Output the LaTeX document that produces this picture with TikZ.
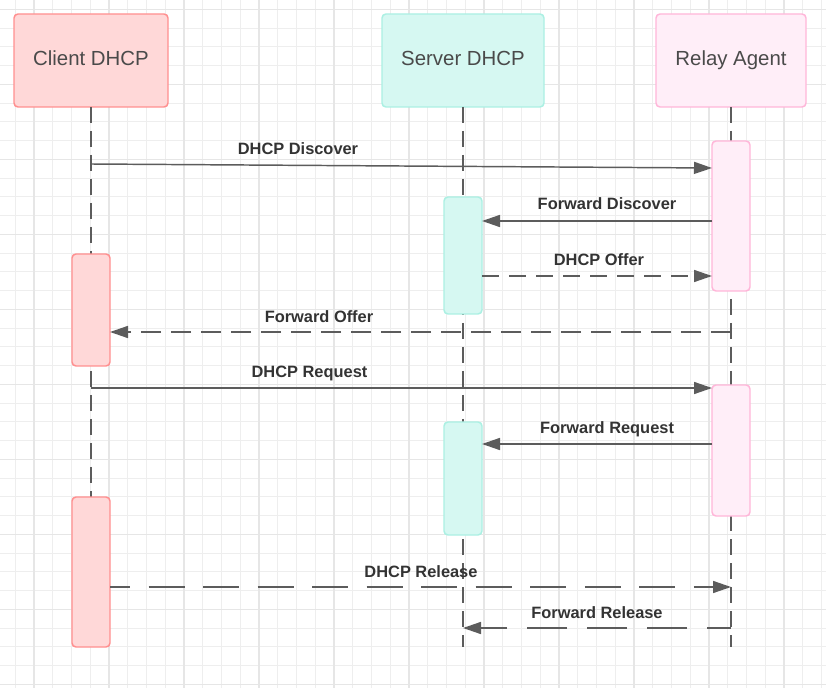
\documentclass[tikz,border=0pt]{standalone}
\usepackage{fontspec}
\setmainfont{Liberation Sans}
\usetikzlibrary{arrows.meta}
\definecolor{gridminor}{HTML}{EEEEEE}
\definecolor{gridmajor}{HTML}{E6E6E6}
\definecolor{cfill}{HTML}{FFD8D8}
\definecolor{cdraw}{HTML}{FF8F8F}
\definecolor{sfill}{HTML}{D6F8F2}
\definecolor{sdraw}{HTML}{ABF0E3}
\definecolor{rfill}{HTML}{FFEEF8}
\definecolor{rdraw}{HTML}{FFB6D9}
\definecolor{linecol}{HTML}{5C5C5C}
\definecolor{headtext}{HTML}{4A4A4A}
\definecolor{lbltext}{HTML}{333333}
\tikzset{
  head/.style={rectangle, rounded corners=3pt, line width=1.1pt, inner sep=0pt, outer sep=0pt,
    minimum height=69.75pt, text=headtext, font=\fontsize{15.3pt}{18pt}\selectfont,
    text height=10.9pt, text depth=3pt},
  actbox/.style={rectangle, rounded corners=3pt, line width=1.1pt, inner sep=0pt, outer sep=0pt,
    minimum width=28.5pt},
  life/.style={draw=linecol, line width=1.1pt, dash pattern=on 12pt off 6pt},
  msg/.style={draw=linecol, line width=1.1pt, -{Triangle[length=13.5pt,width=9pt]}, color=linecol},
  lbl/.style={anchor=base, inner sep=0pt, text=lbltext, font=\fontsize{12.3pt}{14pt}\selectfont\bfseries},
}
\begin{document}
\begin{tikzpicture}[x=0.75pt,y=-0.75pt]
\useasboundingbox (0,0) rectangle (826,688);
\fill[white] (0,0) rectangle (826,688);
% grid
\foreach \i in {0,...,44} \draw[gridminor, line width=0.75pt] ({-3.5+18.75*\i},0) -- ({-3.5+18.75*\i},688);
\foreach \j in {0,...,37} \draw[gridminor, line width=0.75pt] (0,{-9.45+18.75*\j}) -- (826,{-9.45+18.75*\j});
\foreach \i in {0,...,10} \draw[gridmajor, line width=1.1pt] ({34+75*\i},0) -- ({34+75*\i},688);
\foreach \j in {0,...,9} \draw[gridmajor, line width=1.1pt] (0,{9.3+75*\j}) -- (826,{9.3+75*\j});

% headers
\node[head, fill=cfill, draw=cdraw, minimum width=115.5pt] (client) at (91,60.5) {Client DHCP};
\node[head, fill=sfill, draw=sdraw, minimum width=121.5pt] (server) at (463,60.5) {Server DHCP};
\node[head, fill=rfill, draw=rdraw, minimum width=112.5pt] (relay) at (731,60.5) {Relay Agent};

% lifelines
\coordinate (clEnd) at (91,647);
\coordinate (svEnd) at (463,647);
\coordinate (rlEnd) at (731,647);
\draw[life] (client.south) -- (clEnd);
\draw[life] (server.south) -- (svEnd);
\draw[life] (relay.south) -- (rlEnd);

% activation boxes
\node[actbox, fill=rfill, draw=rdraw, minimum height=112.5pt] (R1) at (731,216) {};
\node[actbox, fill=sfill, draw=sdraw, minimum height=87.75pt] (S1) at (463,255.5) {};
\node[actbox, fill=cfill, draw=cdraw, minimum height=84pt] (C1) at (91,310) {};
\node[actbox, fill=rfill, draw=rdraw, minimum height=98.25pt] (R2) at (731,450.5) {};
\node[actbox, fill=sfill, draw=sdraw, minimum height=84.75pt] (S2) at (463,478.5) {};
\node[actbox, fill=cfill, draw=cdraw, minimum height=112.5pt] (C2) at (91,572) {};

% message coordinates
\coordinate (ddS) at (91,164);
\coordinate (y1) at (0,168);
\coordinate (y2) at (0,221);
\coordinate (y3) at (0,276);
\coordinate (foS) at (731,332);
\coordinate (y4) at (0,332);
\coordinate (drS) at (91,388);
\coordinate (y5) at (0,388);
\coordinate (y6) at (0,444);
\coordinate (y7) at (0,587);
\coordinate (relE) at (731,587);
\coordinate (frS) at (731,628);
\coordinate (frE) at (463,628);

% messages
\draw[msg] (ddS) -- (R1.west |- y1);
\draw[msg] (R1.west |- y2) -- (S1.east |- y2);
\draw[msg, dash pattern=on 12.75pt off 7.5pt] (S1.east |- y3) -- (R1.west |- y3);
\draw[msg, dash pattern=on 15pt off 7.5pt] (foS) -- (C1.east |- y4);
\draw[msg] (drS) -- (R2.west |- y5);
\draw[msg] (R2.west |- y6) -- (S2.east |- y6);
\draw[msg, dash pattern=on 27pt off 13.9pt, dash phase=12pt] (C2.east |- y7) -- (relE);
\draw[msg, dash pattern=on 30pt off 15pt, dash phase=12pt] (frS) -- (frE);

% labels
\node[lbl] (l1) at (298,155) {DHCP Discover};
\node[lbl] (l2) at (607,210) {Forward Discover};
\node[lbl] (l3) at (599,265.7) {DHCP Offer};
\node[lbl] (l4) at (319,322.3) {Forward Offer};
\node[lbl] (l5) at (309.5,378) {DHCP Request};
\node[lbl] (l6) at (607,434) {Forward Request};
\node[lbl] (l7) at (421,577.3) {DHCP Release};
\node[lbl] (l8) at (597,618.3) {Forward Release};
\end{tikzpicture}
\end{document}
